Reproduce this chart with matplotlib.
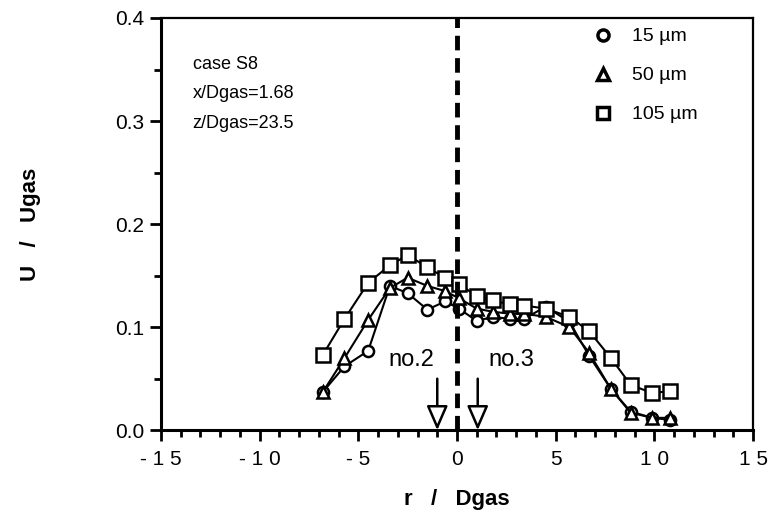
import numpy as np
import matplotlib.pyplot as plt
from matplotlib.ticker import MultipleLocator
from matplotlib.patches import FancyArrowPatch

plt.rcParams['font.family'] = ['Liberation Sans', 'DejaVu Sans']

# --- data (r/Dgas, U/Ugas) ---
r_pos = [-6.8, -5.7, -4.5, -3.4, -2.5, -1.5, -0.6, 0.1, 1.0, 1.8,
         2.7, 3.4, 4.5, 5.7, 6.7, 7.8, 8.8, 9.9, 10.8]
u_15 = [0.037, 0.062, 0.077, 0.140, 0.133, 0.117, 0.125, 0.118, 0.106, 0.110,
        0.108, 0.108, 0.120, 0.105, 0.072, 0.040, 0.018, 0.012, 0.010]
u_50 = [0.037, 0.070, 0.107, 0.138, 0.148, 0.140, 0.135, 0.128, 0.118, 0.115,
        0.113, 0.113, 0.110, 0.100, 0.075, 0.040, 0.017, 0.012, 0.012]
u_105 = [0.073, 0.108, 0.143, 0.160, 0.170, 0.158, 0.148, 0.142, 0.130, 0.126,
         0.122, 0.121, 0.118, 0.110, 0.096, 0.070, 0.044, 0.036, 0.038]

labels = ['15 µm', '50 µm', '105 µm']
markers = ['o', '^', 's']
msizes = [8, 8, 9.5]

x_ticks = [-15, -10, -5, 0, 5, 10, 15]
x_ticklabels = ['- 1 5', '- 1 0', '- 5', '0', '5', '1 0', '1 5']
y_ticks = [0.0, 0.1, 0.2, 0.3, 0.4]

probe_r = [-1.0, 1.05]
probe_names = ['no.2', 'no.3']
probe_text_r = [-2.3, 2.75]

fig = plt.figure(figsize=(7.7, 5.14), dpi=100)
ax = fig.add_axes([0.209, 0.163, 0.769, 0.802])

series = [u_15, u_50, u_105]
for u, m, ms in zip(series, markers, msizes):
    ax.plot(r_pos, u, '-', color='black', lw=1.5, marker=m, ms=ms,
            mfc='white', mec='black', mew=1.8, zorder=3)

# legend (markers only)
handles = [plt.Line2D([], [], ls='none', marker=m, ms=8, mfc='white',
                      mec='black', mew=2.5) for m in markers]
ax.legend(handles, labels, loc='upper right', frameon=False, fontsize=14,
          labelspacing=1.1, handletextpad=0.5, borderaxespad=0.0,
          bbox_to_anchor=(0.92, 0.995))

# centre line
ax.axvline(0, color='black', lw=3.5, ls=(0, (3, 1.6)), zorder=4)

# probe arrows
for pr, name, tr in zip(probe_r, probe_names, probe_text_r):
    arr = FancyArrowPatch((pr, 0.05), (pr, 0.0),
                          arrowstyle='-|>,head_length=15,head_width=6.5',
                          fc='white', ec='black', lw=1.8, mutation_scale=1,
                          shrinkA=0, shrinkB=0, zorder=5)
    ax.add_patch(arr)
    ax.text(tr, 0.068, name, ha='center', va='center', fontsize=17)

ax.text(-13.4, 0.363, 'case S8\nx/Dgas=1.68\nz/Dgas=23.5', ha='left',
        va='top', fontsize=13, linespacing=1.95)

ax.set_xlim(-15, 15)
ax.set_ylim(0.0, 0.4)
ax.set_xticks(x_ticks)
ax.set_xticklabels(x_ticklabels)
ax.set_yticks(y_ticks)
ax.set_yticklabels([f'{v:.1f}' for v in y_ticks])
ax.xaxis.set_minor_locator(MultipleLocator(1))
ax.yaxis.set_minor_locator(MultipleLocator(0.05))
ax.tick_params(which='major', direction='out', length=8, width=2)
ax.tick_params(which='minor', direction='out', length=5, width=2)
ax.tick_params(axis='x', which='major', labelsize=15, pad=6)
ax.tick_params(axis='y', which='major', labelsize=15, pad=4)

for s in ['left', 'bottom']:
    ax.spines[s].set_linewidth(2.2)
for s in ['top', 'right']:
    ax.spines[s].set_linewidth(1.6)

ax.set_xlabel('r   /   Dgas', fontsize=16, fontweight='bold', labelpad=15)
ax.set_ylabel('U   /   Ugas', fontsize=16, fontweight='bold', labelpad=53)

fig.savefig('out.png', dpi=100)
